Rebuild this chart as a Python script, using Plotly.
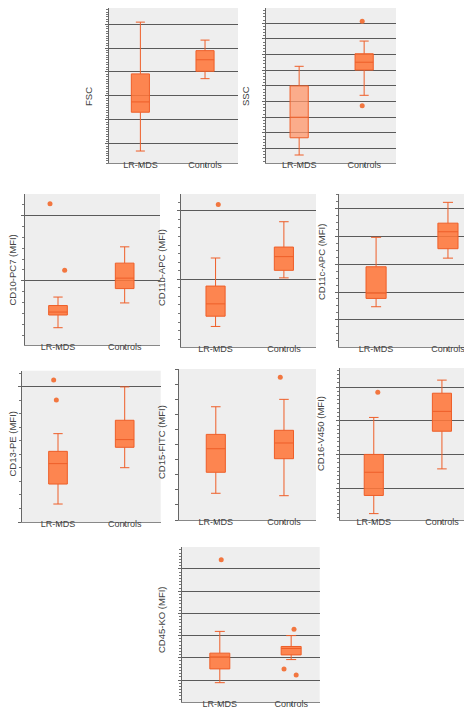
import plotly.graph_objects as go

W, H = 472, 708
groups = ["LR-MDS", "Controls"]

# ---- data (arbitrary grid units) ----
titles = ["FSC", "SSC", "CD10-PC7 (MFI)", "CD11b-APC (MFI)", "CD11c-APC (MFI)",
          "CD13-PE (MFI)", "CD15-FITC (MFI)", "CD16-V450 (MFI)", "CD45-KO (MFI)"]

# per panel: [LR-MDS, Controls]
lower  = [[0.70, 3.72], [0.59, 4.40], [0.28, 0.66], [0.31, 1.02], [1.47, 3.22],
          [1.33, 4.02], [1.77, 1.61], [0.24, 1.57], [0.88, 1.92]]
q1     = [[2.32, 4.03], [1.69, 6.01], [0.475, 0.88], [0.46, 1.13], [1.77, 3.56],
          [2.81, 5.53], [3.16, 4.06], [0.78, 2.69], [1.50, 2.13]]
median = [[2.75, 4.51], [3.00, 6.51], [0.52, 1.04], [0.64, 1.33], [1.96, 4.17],
          [4.32, 6.10], [4.72, 5.10], [1.47, 3.28], [2.04, 2.42]]
q3     = [[3.92, 4.89], [5.00, 7.05], [0.62, 1.27], [0.90, 1.47], [2.91, 4.48],
          [5.23, 7.53], [5.67, 5.94], [2.00, 3.82], [2.21, 2.51]]
upper  = [[6.08, 5.33], [6.25, 7.86], [0.75, 1.52], [1.31, 1.84], [3.97, 5.23],
          [6.54, 10.0], [7.50, 7.99], [3.10, 4.21], [3.19, 3.00]]

# outliers: (panel, group index, x offset, value)
out_panel = [1, 1, 2, 2, 3, 5, 5, 6, 7, 8, 8, 8, 8]
out_group = [1, 1, 0, 0, 0, 0, 0, 1, 0, 0, 1, 1, 1]
out_dx    = [-0.03, -0.03, -0.12, 0.10, 0.04, -0.065, -0.025, -0.054, 0.059, 0.02, 0.04, -0.10, 0.07]
out_val   = [9.13, 3.74, 2.18, 1.16, 2.09, 10.52, 9.04, 9.45, 3.85, 6.42, 3.29, 1.50, 1.23]

# ---- layout (pixel boxes of each plot area) ----
boxes = [(100.7, 0, 230, 155), (258, 0, 388, 155),
         (17, 186, 152, 337), (172.7, 186, 308, 339), (330.7, 186, 468, 339),
         (14, 362.7, 152.7, 514), (171, 361, 308, 512), (331.7, 360, 468, 512),
         (174, 539, 311.7, 694)]
xranges = [(-0.49, 1.51), (-0.51, 1.49), (-0.495, 1.53), (-0.51, 1.47), (-0.52, 1.39),
           (-0.54, 1.54), (-0.54, 1.47), (-0.5, 1.5), (-0.53, 1.40)]
yranges = [(0.2, 6.67), (0.08, 9.97), (0.015, 2.33), (0.01, 2.245), (0.02, 5.53),
           (0, 11.2), (0, 10), (0.05, 4.57), (0.01, 6.99)]
ydtick = [1, 1, 1, 1, 1, 10, 1, 1, 1]
minor_n = [10, 5, 6, 8, 4, 10, 1, 8, 7]
show_grid = [True, True, True, True, True, True, False, True, True]
# (x, y, xanchor, xshift)
title_pos = [(80, 89, "center", 0), (238, 88, "center", 0), (0, 262, "left", -4),
             (153, 260, "center", 0), (313, 254, "center", 0), (0, 436, "left", -4),
             (154, 434, "center", 0), (313, 426, "center", 0), (153, 612, "center", 0)]

fill_main = "rgba(255,118,58,0.88)"
fill_light = "rgba(255,150,105,0.75)"
line_col = "#EE5E28"

fig = go.Figure()
for i in range(9):
    ax = "" if i == 0 else str(i + 1)
    for g in range(2):
        fc = fill_light if (i == 1 and g == 0) else fill_main
        fig.add_trace(go.Box(
            x=[g], q1=[q1[i][g]], median=[median[i][g]], q3=[q3[i][g]],
            lowerfence=[lower[i][g]], upperfence=[upper[i][g]],
            width=0.28, whiskerwidth=0.5, boxpoints=False,
            fillcolor=fc, line=dict(color=line_col, width=1),
            xaxis="x" + ax, yaxis="y" + ax, showlegend=False, hoverinfo="skip"))
    xs = [out_group[k] + out_dx[k] for k in range(len(out_panel)) if out_panel[k] == i]
    ys = [out_val[k] for k in range(len(out_panel)) if out_panel[k] == i]
    if xs:
        fig.add_trace(go.Scatter(x=xs, y=ys, mode="markers",
                                 marker=dict(color="#F2763F", size=5),
                                 xaxis="x" + ax, yaxis="y" + ax, showlegend=False))

    x0, y0, x1, y1 = boxes[i]
    dom_x = [x0 / W, x1 / W]
    dom_y = [1 - y1 / H, 1 - y0 / H]
    fig.layout["xaxis" + ax] = dict(
        domain=dom_x, anchor="y" + ax, range=list(xranges[i]),
        tickvals=[0, 1], ticktext=groups, ticks="outside", ticklen=3,
        ticklabelstandoff=-10,
        tickcolor="#777", showline=True, linecolor="#888", linewidth=1,
        showgrid=False, zeroline=False, fixedrange=True,
        tickfont=dict(family="Liberation Sans, Arial", size=9, color="#444"))
    fig.layout["yaxis" + ax] = dict(
        domain=dom_y, anchor="x" + ax, range=list(yranges[i]),
        tick0=0, dtick=ydtick[i], showticklabels=False,
        ticks="outside", ticklen=3, tickcolor="#666",
        showline=True, linecolor="#666", linewidth=1,
        showgrid=show_grid[i], gridcolor="#5a5a5a", gridwidth=1.2,
        zeroline=False, fixedrange=True,
        minor=dict(dtick=ydtick[i] / minor_n[i], ticks="outside", ticklen=2,
                   tickcolor="#777", showgrid=False) if minor_n[i] > 1 else None)
    tx, ty, xa, xs_ = title_pos[i]
    fig.add_annotation(x=tx / W, y=1 - ty / H, xref="paper", yref="paper",
                       xanchor=xa, yanchor="middle", xshift=xs_,
                       text=titles[i], textangle=-90, showarrow=False,
                       font=dict(family="Liberation Sans, Arial", size=9.5, color="#444"))

fig.update_layout(width=W, height=H, margin=dict(l=0, r=0, t=0, b=0),
                  paper_bgcolor="white", plot_bgcolor="#EEEEEE")
fig.write_html("out.html")
